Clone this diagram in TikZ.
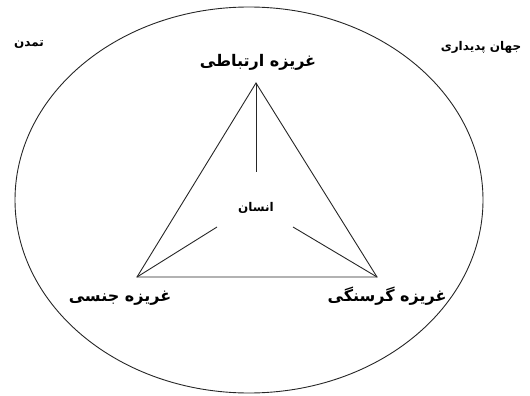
\documentclass[tikz,border=0pt]{standalone}
\usepackage{fontspec}
\TeXXeTstate=1
\newfontfamily\arabicfont[Script=Arabic]{DejaVu Sans}
\tikzset{
  lbl/.style={font=\arabicfont\bfseries\fontsize{16}{18}\selectfont, inner sep=0pt},
  small/.style={font=\arabicfont\bfseries\fontsize{12}{14}\selectfont, inner sep=0pt},
  ln/.style={line width=0.9pt, draw=black!85}
}
\begin{document}
\begin{tikzpicture}[x=1pt,y=-1pt]
\useasboundingbox (0,0) rectangle (530,396);
\draw[ln] (249,200) ellipse [x radius=234, y radius=193];
\coordinate (A) at (256,83);
\coordinate (B) at (137,277);
\coordinate (C) at (377,277);
\coordinate (a1) at (256,172);
\coordinate (b1) at (217,227);
\coordinate (c1) at (293,227);
\draw[ln] (A) -- (B) -- (C) -- cycle;
\draw[ln] (A) -- (a1);
\draw[ln] (B) -- (b1);
\draw[ln] (C) -- (c1);
\node[lbl] (top) at (258,62) {\beginR غریزه ارتباطی\endR};
\node[small] (ins) at (256,208) {\beginR انسان\endR};
\node[lbl] (lft) at (120,298) {\beginR غریزه جنسی\endR};
\node[lbl] (rgt) at (387,296) {\beginR غریزه گرسنگی\endR};
\node[small] (tm) at (29,45) {\beginR تمدن\endR};
\node[small] (jp) at (481,47) {\beginR جهان پدیداری\endR};
\end{tikzpicture}
\end{document}
